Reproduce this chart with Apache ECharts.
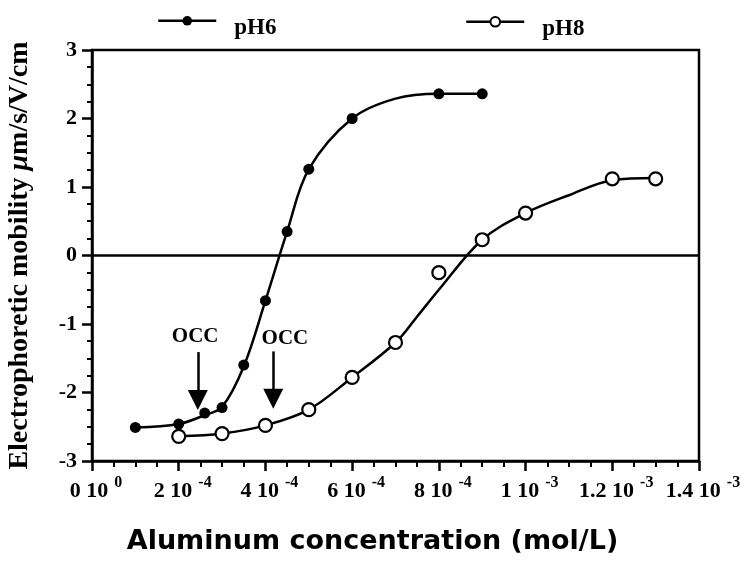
<!DOCTYPE html>
<html><head><meta charset="utf-8">
<script src="https://cdn.jsdelivr.net/npm/echarts@6/dist/echarts.min.js"></script>
<style>html,body{margin:0;padding:0;background:#fff}#c{width:752px;height:564px}</style>
</head><body><div id="c"></div>
<script>
// Aluminum concentration in units of 1e-4 mol/L; mobility in µm/s/V/cm
const ph6Conc = [1, 2, 2.6, 3, 3.5, 4, 4.5, 5, 6, 8, 9];
const ph6Mob  = [-2.51, -2.46, -2.30, -2.22, -1.60, -0.66, 0.35, 1.26, 2.00, 2.36, 2.36];
const ph8Conc = [2, 3, 4, 5, 6, 7, 8, 9, 10, 12, 13];
const ph8Mob  = [-2.64, -2.60, -2.48, -2.25, -1.78, -1.27, -0.25, 0.23, 0.62, 1.12, 1.12];
// fitted curves
const ph6FitConc = [1, 2, 2.6, 3, 3.5, 4, 4.5, 5, 6, 7, 8, 9];
const ph6FitMob  = [-2.51, -2.46, -2.33, -2.21, -1.62, -0.66, 0.35, 1.26, 2.00, 2.29, 2.36, 2.36];
const ph8FitConc = [2, 3, 4, 5, 6, 7, 7.5, 8, 9, 10, 11, 12, 13];
const ph8FitMob  = [-2.64, -2.60, -2.48, -2.25, -1.78, -1.27, -0.89, -0.50, 0.23, 0.62, 0.88, 1.10, 1.13];
// tick labels
const xTickBase = ['0 10', '2 10', '4 10', '6 10', '8 10', '1 10', '1.2 10', '1.4 10'];
const xTickExp  = ['0', '-4', '-4', '-4', '-4', '-3', '-3', '-3'];
// OCC annotations
const occText   = ['OCC', 'OCC'];
const occTextX  = [2.38, 4.45];
const occTextY  = [-1.19, -1.22];
const arrowX    = [2.44, 4.18];
const arrowTop  = [-1.41, -1.40];
const arrowHead = [-2.11, -2.09];

const zip = (a, b) => a.map((v, i) => [v, b[i]]);
const serif = 'Liberation Serif';

const arrowLines = arrowX.map((x, i) => [
  { coord: [x, arrowTop[i]], symbol: 'none' },
  { coord: [x, arrowHead[i]], symbol: 'triangle', symbolSize: [20, 20] }
]);

const legendCommon = {
  top: 11, itemWidth: 58, itemHeight: 12,
  formatter: n => '{t|' + n + '}',
  textStyle: { rich: { t: { fontFamily: serif, fontWeight: 'bold', fontSize: 23, color: '#000', padding: [14, 0, 0, 13] } } },
  lineStyle: { opacity: 1, width: 2.5, color: '#000' }
};

const chart = echarts.init(document.getElementById('c'));
chart.setOption({
  animation: false,
  backgroundColor: '#fff',
  grid: { left: 92, right: 53, top: 50, bottom: 103, outerBoundsMode: 'none', containLabel: false,
    show: true, borderColor: '#000', borderWidth: 2.5 },
  legend: [
    Object.assign({ data: ['pH6'], left: 152 }, legendCommon),
    Object.assign({ data: ['pH8'], left: 460 }, legendCommon)
  ],
  xAxis: {
    type: 'value', min: 0, max: 14, interval: 2,
    name: 'Aluminum concentration (mol/L)', nameLocation: 'middle', nameGap: 67,
    nameTextStyle: { fontFamily: 'DejaVu Sans', fontWeight: 'bold', fontSize: 27, color: '#000', padding: [0, 46, 0, 0] },
    axisLine: { onZero: false, lineStyle: { color: '#000', width: 2.5 } },
    axisTick: { length: 10, lineStyle: { color: '#000', width: 2.5 } },
    minorTick: { show: true, splitNumber: 4, length: 6, lineStyle: { color: '#000', width: 2 } },
    splitLine: { show: false },
    axisLabel: {
      margin: 14, showMinLabel: true, showMaxLabel: true, hideOverlap: false,
      formatter: v => { const i = Math.round(v / 2); return '{b|' + xTickBase[i] + '}{s|' + xTickExp[i] + '}'; },
      rich: {
        b: { fontFamily: serif, fontWeight: 'bold', fontSize: 22, lineHeight: 22, color: '#000', padding: [11, 0, 0, 8] },
        s: { fontFamily: serif, fontWeight: 'bold', fontSize: 16, lineHeight: 16, color: '#000', verticalAlign: 'top', padding: [0, 0, 0, 6] }
      }
    }
  },
  yAxis: {
    type: 'value', min: -3, max: 3, interval: 1,
    name: '{b|Electrophoretic mobility }{i|μ}{b|m/s/V/cm}', nameLocation: 'middle', nameGap: 58, nameRotate: 90,
    nameTextStyle: { rich: {
      b: { fontFamily: serif, fontWeight: 'bold', fontSize: 28, color: '#000' },
      i: { fontFamily: serif, fontWeight: 'bold', fontStyle: 'italic', fontSize: 28, color: '#000' }
    } },
    axisLine: { lineStyle: { color: '#000', width: 2.5 } },
    axisTick: { length: 10, lineStyle: { color: '#000', width: 2.5 } },
    minorTick: { show: true, splitNumber: 4, length: 5, lineStyle: { color: '#000', width: 2 } },
    splitLine: { show: false },
    axisLabel: { margin: 15, fontFamily: serif, fontWeight: 'bold', fontSize: 22, color: '#000' }
  },
  series: [
    { name: 'fit6', type: 'line', data: zip(ph6FitConc, ph6FitMob), smooth: 0.35,
      symbol: 'none', silent: true, z: 2, lineStyle: { color: '#000', width: 2.5 } },
    { name: 'fit8', type: 'line', data: zip(ph8FitConc, ph8FitMob), smooth: 0.35,
      symbol: 'none', silent: true, z: 2, lineStyle: { color: '#000', width: 2.5 } },
    { name: 'pH6', type: 'line', data: zip(ph6Conc, ph6Mob), symbol: 'circle', symbolSize: 11, z: 5,
      itemStyle: { color: '#000' }, lineStyle: { color: '#000', opacity: 0 } },
    { name: 'pH8', type: 'line', data: zip(ph8Conc, ph8Mob), symbol: 'circle', symbolSize: 13, z: 5,
      itemStyle: { color: '#fff', borderColor: '#000', borderWidth: 2.2 }, lineStyle: { color: '#000', opacity: 0 } },
    { name: 'notes', type: 'scatter', data: zip(occTextX, occTextY), symbolSize: 0, silent: true, z: 6,
      itemStyle: { opacity: 1 },
      label: { show: true, position: 'inside', formatter: p => occText[p.dataIndex],
        fontFamily: serif, fontWeight: 'bold', fontSize: 21, color: '#000', opacity: 1 },
      markLine: {
        silent: true, symbol: ['none', 'none'], animation: false,
        label: { show: false },
        lineStyle: { type: 'solid', color: '#000', width: 2.5 },
        data: [{ yAxis: 0 }].concat(arrowLines)
      } }
  ]
});
</script></body></html>
